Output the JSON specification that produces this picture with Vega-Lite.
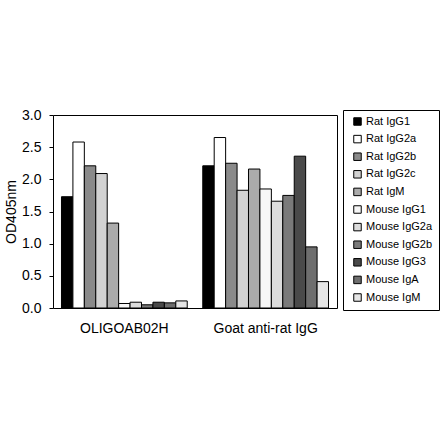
{
  "$schema": "https://vega.github.io/schema/vega-lite/v6.json",
  "width": 284,
  "height": 193,
  "autosize": {"type": "none"},
  "padding": {"left": 53, "top": 115, "right": 103, "bottom": 133},
  "background": "white",
  "data": {
    "values": [
      {"group": "OLIGOAB02H", "isotype": "Rat IgG1", "od": 1.73},
      {"group": "OLIGOAB02H", "isotype": "Rat IgG2a", "od": 2.58},
      {"group": "OLIGOAB02H", "isotype": "Rat IgG2b", "od": 2.21},
      {"group": "OLIGOAB02H", "isotype": "Rat IgG2c", "od": 2.09},
      {"group": "OLIGOAB02H", "isotype": "Rat IgM", "od": 1.32},
      {"group": "OLIGOAB02H", "isotype": "Mouse IgG1", "od": 0.07},
      {"group": "OLIGOAB02H", "isotype": "Mouse IgG2a", "od": 0.09},
      {"group": "OLIGOAB02H", "isotype": "Mouse IgG2b", "od": 0.05},
      {"group": "OLIGOAB02H", "isotype": "Mouse IgG3", "od": 0.09},
      {"group": "OLIGOAB02H", "isotype": "Mouse IgA", "od": 0.08},
      {"group": "OLIGOAB02H", "isotype": "Mouse IgM", "od": 0.11},
      {"group": "Goat anti-rat IgG", "isotype": "Rat IgG1", "od": 2.21},
      {"group": "Goat anti-rat IgG", "isotype": "Rat IgG2a", "od": 2.65},
      {"group": "Goat anti-rat IgG", "isotype": "Rat IgG2b", "od": 2.25},
      {"group": "Goat anti-rat IgG", "isotype": "Rat IgG2c", "od": 1.83},
      {"group": "Goat anti-rat IgG", "isotype": "Rat IgM", "od": 2.16},
      {"group": "Goat anti-rat IgG", "isotype": "Mouse IgG1", "od": 1.85},
      {"group": "Goat anti-rat IgG", "isotype": "Mouse IgG2a", "od": 1.66},
      {"group": "Goat anti-rat IgG", "isotype": "Mouse IgG2b", "od": 1.75},
      {"group": "Goat anti-rat IgG", "isotype": "Mouse IgG3", "od": 2.36},
      {"group": "Goat anti-rat IgG", "isotype": "Mouse IgA", "od": 0.95},
      {"group": "Goat anti-rat IgG", "isotype": "Mouse IgM", "od": 0.41}
    ]
  },
  "mark": {"type": "bar", "stroke": "black", "strokeWidth": 1},
  "encoding": {
    "x": {
      "field": "group",
      "type": "nominal",
      "sort": ["OLIGOAB02H", "Goat anti-rat IgG"],
      "scale": {"paddingInner": 0.11, "paddingOuter": 0.06},
      "axis": {
        "title": null,
        "labelAngle": 0,
        "labelFont": "Liberation Sans",
        "labelFontSize": 14,
        "labelColor": "black",
        "labelPadding": 13,
        "ticks": false,
        "domain": false
      }
    },
    "xOffset": {
      "field": "isotype",
      "type": "nominal",
      "sort": ["Rat IgG1", "Rat IgG2a", "Rat IgG2b", "Rat IgG2c", "Rat IgM", "Mouse IgG1", "Mouse IgG2a", "Mouse IgG2b", "Mouse IgG3", "Mouse IgA", "Mouse IgM"],
      "scale": {"paddingInner": 0, "paddingOuter": 0}
    },
    "y": {
      "field": "od",
      "type": "quantitative",
      "scale": {"domain": [0, 3], "nice": false},
      "axis": {
        "title": "OD405nm",
        "titleFont": "Liberation Sans",
        "titleFontSize": 14,
        "titleFontWeight": "normal",
        "titleColor": "black",
        "titlePadding": 3,
        "values": [0, 0.5, 1, 1.5, 2, 2.5, 3],
        "format": ".1f",
        "labelFont": "Liberation Sans",
        "labelFontSize": 14,
        "labelColor": "black",
        "labelPadding": 8,
        "tickSize": 4,
        "tickColor": "black",
        "domain": false,
        "grid": false
      }
    },
    "color": {
      "field": "isotype",
      "type": "nominal",
      "sort": ["Rat IgG1", "Rat IgG2a", "Rat IgG2b", "Rat IgG2c", "Rat IgM", "Mouse IgG1", "Mouse IgG2a", "Mouse IgG2b", "Mouse IgG3", "Mouse IgA", "Mouse IgM"],
      "scale": {
        "range": ["#000000", "#ffffff", "#8a8a8a", "#d2d2d2", "#ababab", "#f6f6f6", "#dcdcdc", "#7a7a7a", "#4a4a4a", "#6e6e6e", "#e6e6e6"]
      },
      "legend": {
        "title": null,
        "orient": "none",
        "legendX": 290,
        "legendY": -5,
        "strokeColor": "black",
        "padding": 6,
        "symbolOffset": 3,
        "symbolType": "square",
        "symbolSize": 56,
        "symbolStrokeColor": "black",
        "symbolStrokeWidth": 1,
        "labelFont": "Liberation Sans",
        "labelFontSize": 11,
        "labelColor": "black",
        "labelOffset": 3,
        "rowPadding": 4.6
      }
    }
  },
  "config": {
    "view": {"stroke": "black", "strokeWidth": 1}
  }
}
